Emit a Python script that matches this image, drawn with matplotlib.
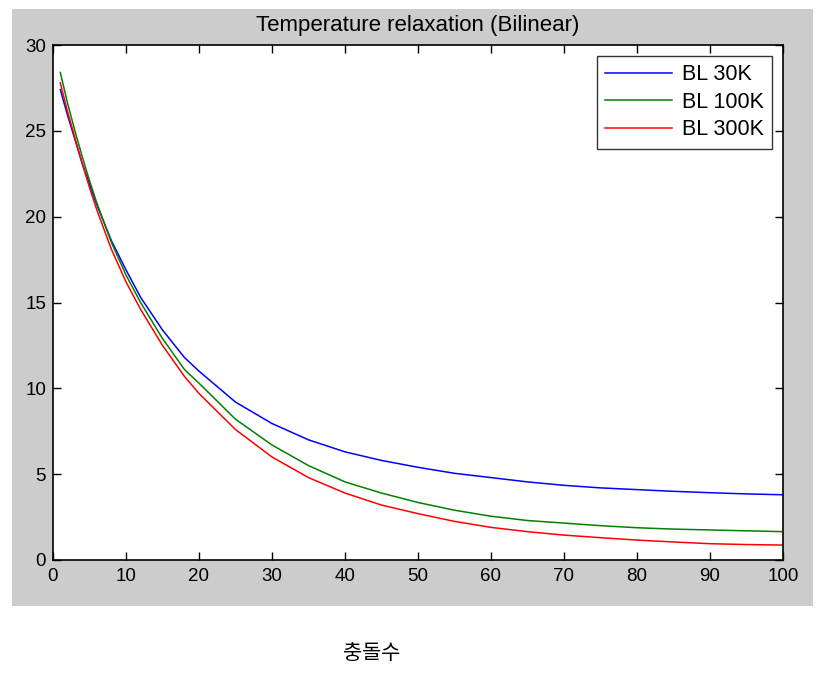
import matplotlib
matplotlib.use("Agg")
import matplotlib.pyplot as plt
from matplotlib.patches import Rectangle

plt.rcParams['font.family'] = ['Liberation Sans', 'DejaVu Sans']

x = [1, 2, 3, 4, 5, 6, 8, 10, 12, 15, 18, 20, 25, 30, 35, 40, 45, 50,
     55, 60, 65, 70, 75, 80, 85, 90, 95, 100]
bl_30k = [27.4, 25.9, 24.5, 23.1, 21.9, 20.7, 18.6, 16.9, 15.3, 13.4, 11.8, 11.0,
          9.2, 7.95, 7.0, 6.3, 5.8, 5.4, 5.05, 4.8, 4.55, 4.35, 4.2, 4.1, 4.0,
          3.92, 3.85, 3.8]
bl_100k = [28.4, 26.6, 25.0, 23.5, 22.1, 20.8, 18.5, 16.6, 15.0, 12.9, 11.1, 10.3,
           8.2, 6.7, 5.5, 4.55, 3.9, 3.35, 2.9, 2.55, 2.3, 2.15, 2.0, 1.88, 1.8,
           1.75, 1.7, 1.65]
bl_300k = [27.8, 26.1, 24.6, 23.1, 21.7, 20.4, 18.1, 16.2, 14.6, 12.5, 10.7, 9.7,
           7.6, 6.0, 4.8, 3.9, 3.2, 2.7, 2.25, 1.9, 1.65, 1.45, 1.3, 1.16, 1.05,
           0.95, 0.9, 0.87]
series_labels = ['BL 30K', 'BL 100K', 'BL 300K']
title = 'Temperature relaxation (Bilinear)'
xlabel = '충돌수'
xticks = [0, 10, 20, 30, 40, 50, 60, 70, 80, 90, 100]
yticks = [0, 5, 10, 15, 20, 25, 30]

W, H = 827, 675
fig = plt.figure(figsize=(W / 100, H / 100), dpi=100)
fig.patch.set_facecolor('white')
fig.patches.append(Rectangle((12 / W, 1 - 606 / H), (813 - 12) / W, (606 - 9) / H,
                             transform=fig.transFigure, facecolor='#cccccc',
                             edgecolor='none', zorder=-10))

ax = fig.add_axes([53 / W, 1 - 560 / H, 730 / W, 515 / H])
ax.set_facecolor('white')
colors = ['#0000ff', '#008000', '#ff0000']
for ys, lab, c in zip([bl_30k, bl_100k, bl_300k], series_labels, colors):
    ax.plot(x, ys, color=c, lw=1.1, label=lab)

ax.set_xlim(0, 100)
ax.set_ylim(0, 30)
ax.set_xticks(xticks)
ax.set_yticks(yticks)
ax.tick_params(direction='in', length=6, width=1, top=True, right=True,
               labelsize=13.5, colors='black')
ax.tick_params(axis='x', pad=6)
ax.tick_params(axis='y', pad=5)
for s in ax.spines.values():
    s.set_linewidth(1.2)
ax.set_title(title, fontsize=16, pad=10)

leg = ax.legend(loc='upper right', fontsize=15.5, frameon=True, fancybox=False,
                edgecolor='black', handlelength=3.1, handletextpad=0.45,
                borderpad=0.4, labelspacing=0.3, borderaxespad=0.5)
leg.get_frame().set_linewidth(1.0)

fig.text(372 / W, 1 - 653 / H, xlabel, ha='center', va='center', fontsize=15,
         family=['Noto Sans CJK KR', 'DejaVu Sans'])

fig.savefig('out.png', dpi=100)
